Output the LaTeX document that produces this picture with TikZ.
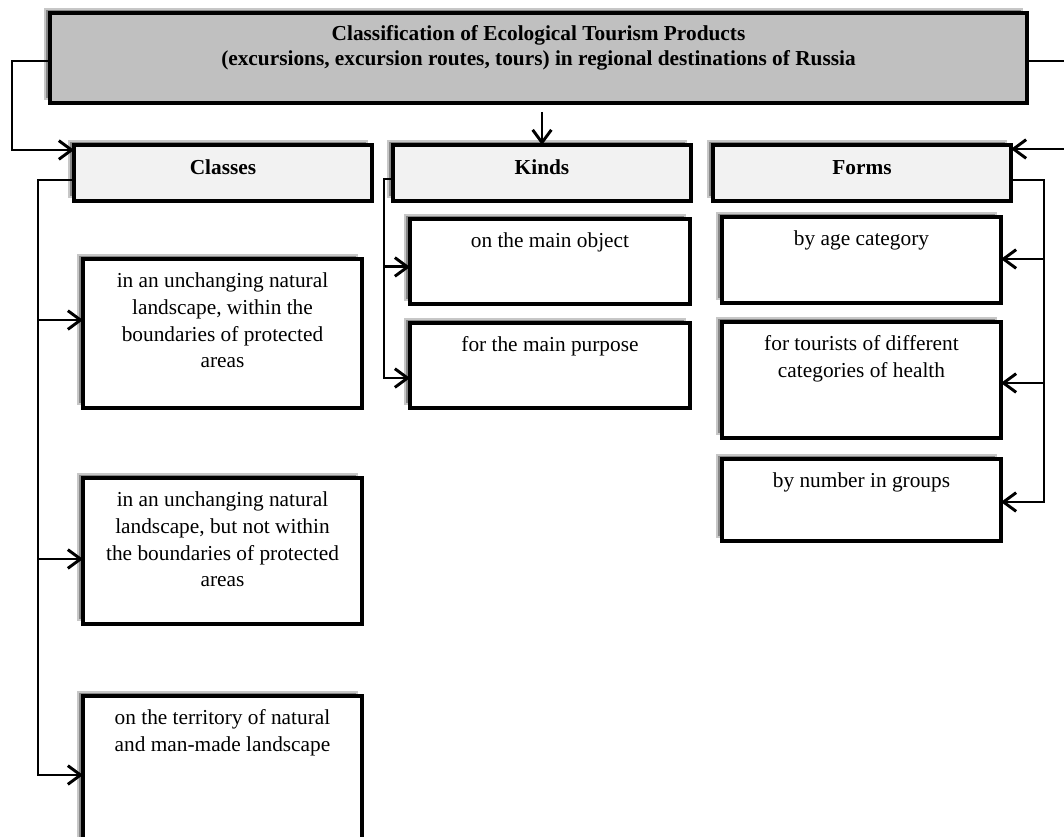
\documentclass[tikz,border=0pt]{standalone}
\usepackage{fontspec}
\setmainfont{Liberation Serif}
\usetikzlibrary{arrows.meta}
\definecolor{titlegray}{HTML}{C0C0C0}
\definecolor{headgray}{HTML}{F2F2F2}
\newlength{\tpad}
\tikzset{
  boxshadow/.style={fill=black!47, draw=black!22, line width=0.8pt},
  ebox/.style={draw=black, line width=2.3pt, inner sep=0pt, outer sep=0pt, fill=white,
    font=\fontsize{16}{20}\selectfont\setlength{\tpad}{7.7pt}},
  titlebox/.style={ebox, fill=titlegray, font=\fontsize{16}{19}\selectfont\bfseries\setlength{\tpad}{7pt}},
  headbox/.style={ebox, fill=headgray, font=\fontsize{16}{20}\selectfont\bfseries\setlength{\tpad}{8.5pt}},
  conn/.style={line width=2.2pt, draw=black},
  arr/.style={-{Straight Barb[length=9.5pt,width=14pt]}}
}
% #1 name, #2 x1, #3 y1, #4 x2, #5 y2, #6 style, #7 text
\newcommand{\ecobox}[7]{%
  \filldraw[boxshadow] ({#2-5},{#3-4}) rectangle ({#4-5},{#5-4});
  \node[#6] (#1) at ({(#2+#4)/2},{(#3+#5)/2})
    {\begin{minipage}[c][\dimexpr(#5pt-#3pt)*3/4\relax][t]{\dimexpr(#4pt-#2pt)*3/4\relax}%
      \centering\vspace*{\tpad}\strut #7\end{minipage}};
}
\begin{document}
\begin{tikzpicture}[x=0.75pt, y=-0.75pt]
\useasboundingbox (0,0) rectangle (1064,837);
\clip (0,0) rectangle (1064,837);
\fill[white] (0,0) rectangle (1064,837);

% title
\ecobox{title}{50}{13}{1027}{103}{titlebox}{Classification of Ecological Tourism Products\\(excursions, excursion routes, tours) in regional destinations of Russia}

% headers
\ecobox{classes}{74}{145}{372}{201}{headbox}{Classes}
\ecobox{kinds}{393}{145}{691}{201}{headbox}{Kinds}
\ecobox{forms}{713}{145}{1011}{201}{headbox}{Forms}

% classes
\ecobox{c1}{83}{259}{362}{408}{ebox}{in an unchanging natural\\landscape, within the\\boundaries of protected\\areas}
\ecobox{c2}{83}{478}{362}{624}{ebox}{in an unchanging natural\\landscape, but not within\\the boundaries of protected\\areas}
\ecobox{c3}{83}{696}{362}{854}{ebox}{on the territory of natural\\and man-made landscape}

% kinds
\ecobox{k1}{410}{219}{690}{304}{ebox}{on the main object}
\ecobox{k2}{410}{323}{690}{408}{ebox}{for the main purpose}

% forms
\ecobox{f1}{722}{217}{1001}{303}{ebox}{by age category}
\ecobox{f2}{722}{322}{1001}{438}{ebox}{for tourists of different\\categories of health}
\ecobox{f3}{722}{459}{1001}{541}{ebox}{by number in groups}

% title connectors
\draw[conn,arr] ([yshift=-2.25pt]title.west) -- ++(-38,0) |- ([yshift=-3.75pt]classes.north west);
\draw[conn,arr] ([yshift=-2.25pt]title.east) -- ++(45,0) |- ([yshift=-3pt]forms.north east);
\coordinate (topstart) at ([yshift=-6.75pt]title.south);
\draw[conn,arr] (topstart -| kinds.north) -- (kinds.north);

% classes connectors
\coordinate (cfrom) at ([yshift=-5.25pt]classes.west);
\path (cfrom) ++(-36,0) coordinate (ctrunk);
\coordinate (c1in) at ([yshift=10.1pt]c1.west);
\coordinate (c2in) at ([yshift=-6pt]c2.west);
\coordinate (c3in) at (c3.west);
\draw[conn,arr] (cfrom) -- (ctrunk) |- (c3in);
\draw[conn,arr] (ctrunk |- c1in) -- (c1in);
\draw[conn,arr] (ctrunk |- c2in) -- (c2in);

% kinds connectors
\coordinate (kfrom) at ([yshift=-4.5pt]kinds.west);
\path (kfrom) ++(-9,0) coordinate (ktrunk);
\coordinate (k1in) at ([yshift=-4.1pt]k1.west);
\coordinate (k2in) at ([yshift=-9.4pt]k2.west);
\draw[conn,arr] (kfrom) -- (ktrunk) |- (k2in);
\draw[conn,arr] (ktrunk |- k1in) -- (k1in);

% forms connectors
\coordinate (ffrom) at ([yshift=-5.25pt]forms.east);
\path (ffrom) ++(33,0) coordinate (ftrunk);
\coordinate (f1in) at ([yshift=0.75pt]f1.east);
\coordinate (f2in) at ([yshift=-2.25pt]f2.east);
\coordinate (f3in) at ([yshift=-1.5pt]f3.east);
\draw[conn,arr] (ffrom) -- (ftrunk) |- (f3in);
\draw[conn,arr] (ftrunk |- f1in) -- (f1in);
\draw[conn,arr] (ftrunk |- f2in) -- (f2in);
\end{tikzpicture}
\end{document}
